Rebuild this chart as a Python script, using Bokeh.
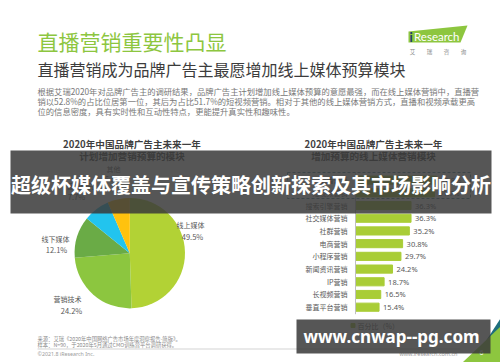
import math
from bokeh.plotting import figure
from bokeh.models import Range1d
from bokeh.core.properties import value
from bokeh.embed import file_html
from bokeh.resources import INLINE

# ---------------- data ----------------
pie_labels = ["线上媒体", "营销技术", "线下媒体", "营销研究", "其他"]
pie_values = [49.5, 24.2, 12.1, 7.7, 6.5]

bar_categories = ["直播营销", "短视频营销", "搜索引擎营销", "社交媒体营销", "社群营销", "电商营销",
                  "小程序营销", "新闻资讯营销", "IP营销", "长视频营销", "垂直平台营销"]
bar_values = [52.8, 51.7, 36.3, 36.3, 35.2, 30.8, 29.7, 24.2, 18.7, 16.5, 15.4]

title_main = "直播营销重要性凸显"
title_sub = "直播营销成为品牌广告主最愿增加线上媒体预算模块"
paragraph = [
    "根据艾瑞2020年对品牌广告主的调研结果，品牌广告主计划增加线上媒体预算的意愿最强，而在线上媒体营销中，直播营",
    "销以52.8%的占比位居第一位，其后为占比51.7%的短视频营销。相对于其他的线上媒体营销方式，直播和视频承载更高",
    "位的信息密度，具有实时性和互动性特点，更能提升真实性和趣味性。",
]
left_title = ["2020年中国品牌广告主未来一年", "计划增加营销预算的模块"]
right_title = ["2020年中国品牌广告主未来一年", "增加预算的线上媒体营销模块"]
legend_label = "百分比（%）"
source_lines = ["来源：艾瑞《2020年中国网络广告市场年度洞察报告-简版》。",
                "样本：N=90，于2020年5月通过CMO训练营平台调研获得。"]
copyright_text = "©2021.8 iResearch Inc."
site_text = "www.iresearch.com.cn"
banner_text = "超级杯媒体覆盖与宣传策略创新探索及其市场影响分析"
watermark_text = "www.cnwap--pg.com"

# ---------------- styles ----------------
CJK = value("Noto Sans CJK SC")
pie_colors = ["#b2d235", "#8cc63f", "#6aab46", "#22c4ee", "#ffc20e"]
bar_color = "#a9cd36"
GRAY = "#595959"

W, H = 500, 362
p = figure(width=W, height=H, x_range=Range1d(0, W), y_range=Range1d(H, 0),
           output_backend="svg", toolbar_location=None, min_border=0,
           x_axis_location=None, y_axis_location=None, outline_line_color=None)
p.grid.visible = False
p.background_fill_color = "white"
p.border_fill_color = "white"

# bar chart ranges (layout only)
bx0, bpx = 355.0, 1.53
by0, bpy = 179.6, 12.71
p.extra_x_ranges = {"bx": Range1d((0 - bx0) / bpx, (W - bx0) / bpx)}
p.extra_y_ranges = {"by": Range1d((H - by0) / bpy, (0 - by0) / bpy)}


def txt(x, y, t, size, color, align="left", bold=False, font=CJK, **kw):
    p.text(x=x if isinstance(x, list) else [x], y=y if isinstance(y, list) else [y],
           text=t if isinstance(t, list) else [t], text_font=font,
           text_font_size=f"{size}px", text_color=color, text_align=align,
           text_baseline="middle", text_font_style="bold" if bold else "normal", **kw)


# header
txt(37, 40, title_main, 21, "#8dc63f")
txt(37, 68, title_sub, 16, "#3c3c3c")
txt([37, 37, 37], [90, 100, 110], paragraph, 8.3, "#777777")

# logo
p.patch(x=[408, 467, 460, 408], y=[31, 25, 42, 42], color="#8dc63f", line_width=0)
txt(409, 36, "i", 13, "#1f3b6e", bold=True, font=value("Lato"))
txt(413.5, 35.5, "Research", 11.5, "white", font=value("Lato"))
txt([412, 429, 446, 463], [51.5] * 4, ["艾", "瑞", "咨", "询"], 5.5, "#8a8a8a", align="center")

# chart titles
txt([131.5, 131.5], [143, 155], left_title, 9.6, "#3f3f3f", align="center", bold=True)
txt([373, 373], [143, 155], right_title, 9.6, "#3f3f3f", align="center", bold=True)

# pie
cx, cy, r = 129.3, 252.7, 55.2
total = sum(pie_values)
starts, ends = [], []
acc = 0.0
for v in pie_values:
    a0 = acc / total
    acc += v
    a1 = acc / total
    starts.append(math.pi / 2 - 2 * math.pi * a1)
    ends.append(math.pi / 2 - 2 * math.pi * a0)
p.wedge(x=[cx] * len(pie_values), y=[cy] * len(pie_values), radius=r,
        start_angle=starts, end_angle=ends, fill_color=pie_colors, line_color=None)

pie_label_pos = [(190, 224, 192, 236), (67, 298, 71, 310), (55, 238, 56, 249),
                 (80, 185, 76, 196), (113, 168, 113, 178)]
for (lx, ly, vx, vy), name, v in zip(pie_label_pos, pie_labels, pie_values):
    txt(lx, ly, name, 7, GRAY, align="center")
    txt(vx, vy, f"{v}%", 7.5, GRAY, align="center")

# bars
idx = list(range(len(bar_categories)))
p.hbar(y=idx, left=0, right=bar_values, height=0.64, color=bar_color,
       x_range_name="bx", y_range_name="by")
p.segment(x0=[0], x1=[0], y0=[-0.55], y1=[len(idx) - 0.45], line_color="#bfbfbf",
          line_width=1, x_range_name="bx", y_range_name="by")
p.text(x=[0] * len(idx), y=idx, text=bar_categories, x_offset=-8, text_font=CJK,
       text_font_size="7px", text_color=GRAY, text_align="right", text_baseline="middle",
       x_range_name="bx", y_range_name="by")
p.text(x=bar_values, y=idx, text=[f"{v}%" for v in bar_values], x_offset=4,
       text_font=value("Noto Sans"), text_font_size="7.5px", text_color=GRAY,
       text_align="left", text_baseline="middle", x_range_name="bx", y_range_name="by")
# dashed highlight box around the top two bars
p.quad(left=[287], right=[470], top=[172], bottom=[198], fill_color=None,
       line_color="#4f8fa0", line_dash="3 2", line_width=1)

# legend
p.rect(x=[352.5], y=[325], width=4, height=4, color=bar_color)
txt(357, 325, legend_label, 7, GRAY)

# footer
txt([37, 37], [338, 344.5], source_lines, 5.3, "#8a8a8a")
p.segment(x0=[37], x1=[460], y0=[348.5], y1=[348.5], line_color="#c8c8c8", line_width=0.8)
txt(37, 353, copyright_text, 5.3, "#9a9a9a", font=value("Noto Sans"))
txt(457, 353, site_text, 5.5, "#9a9a9a", align="right", font=value("Noto Sans"))
p.patch(x=[478, 500, 500], y=[352, 330, 318], color="#1d6e7c", line_width=0)
p.patch(x=[462, 500, 500], y=[362, 362, 326], color="#8dc63f", line_width=0)
txt(481, 352, "6", 7, "white", align="center", font=value("Noto Sans"))

# overlay banners
p.quad(left=[10], right=[491], top=[150], bottom=[213], color="#3a3a3a", alpha=0.86, line_width=0)
txt(250.5, 184, banner_text, 20, "white", align="center", bold=True)
p.quad(left=[296], right=[490], top=[319], bottom=[353], color="#3a3a3a", alpha=0.86, line_width=0)
txt(391, 336, watermark_text, 17, "white", align="center", bold=True, font=value("Noto Sans"))

open("out.html", "w").write(file_html(p, INLINE))
